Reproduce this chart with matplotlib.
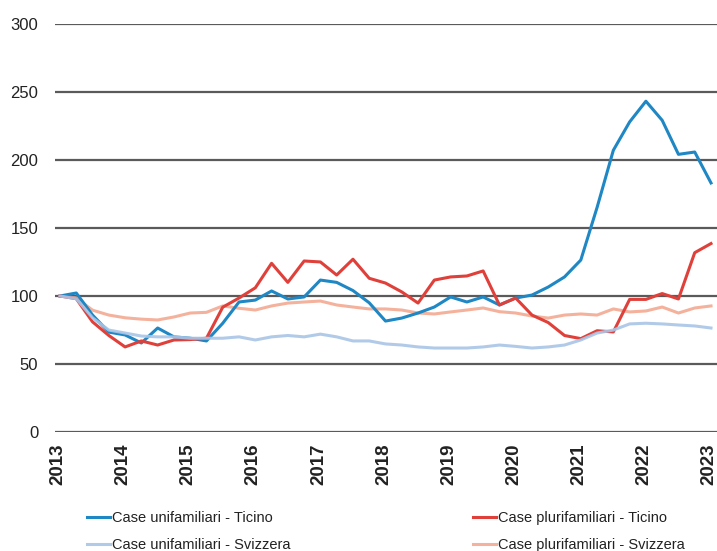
import matplotlib
matplotlib.use("Agg")
import matplotlib.pyplot as plt
import matplotlib.transforms as mtransforms
import numpy as np

# Quarterly index values, 2013 Q1 .. 2023 Q1 (base 2013 = 100)
years = [2013, 2014, 2015, 2016, 2017, 2018, 2019, 2020, 2021, 2022, 2023]
quarters = [2013 + q / 4 for q in range(41)]

unif_ticino = [100, 102.2, 86, 73.5, 71.4, 65.5, 76.5, 70, 69, 67,
               80, 95.6, 97, 103.7, 97.8, 99.3, 111.7, 110, 104, 95,
               81.6, 83.8, 87.5, 91.9, 99.3, 95.6, 99.3, 93.4, 98.5, 100.7,
               106.6, 114, 126.4, 165, 207, 227.8, 243, 229, 204, 205.7,
               183]
pluri_ticino = [100, 98, 81, 71, 62.6, 67, 64, 67.7, 68, 69,
                91.8, 98.5, 106, 124, 110, 125.7, 125, 115.4, 127, 113,
                109.5, 103, 94.8, 111.7, 114, 114.7, 118.4, 93.4, 98.5, 86,
                80.5, 71, 68.7, 74.5, 73.6, 97.5, 97.5, 101.8, 97.8, 131.8,
                138.5]
unif_svizzera = [100, 98, 84, 75, 72.8, 70.6, 70, 70, 69, 69,
                 69, 70, 67.7, 70, 71, 70, 72, 70, 67, 67,
                 64.8, 64, 62.6, 61.8, 61.8, 61.8, 62.6, 64, 63, 61.8,
                 62.6, 64, 67.7, 72.8, 75, 79.5, 80, 79.5, 78.7, 78,
                 76.5]
pluri_svizzera = [100, 98.5, 89.6, 86, 84, 83, 82.4, 84.6, 87.5, 88,
                  92.7, 91, 89.7, 92.7, 94.8, 95.6, 96.3, 93.4, 91.9, 90.5,
                  90.5, 89.7, 87.5, 86.8, 88.3, 89.7, 91.2, 88.5, 87.5, 85.3,
                  83.8, 86, 86.8, 86, 90.5, 88.3, 89, 91.9, 87.5, 91.2,
                  92.7]

labels = ["Case unifamiliari - Ticino", "Case plurifamiliari - Ticino",
          "Case unifamiliari - Svizzera", "Case plurifamiliari - Svizzera"]
yticks = [0, 50, 100, 150, 200, 250, 300]

c_blue = "#1e87c4"
c_red = "#e0403a"
c_lblue = "#a9c5e6"
c_salmon = "#f4b29d"

plain = ["Liberation Sans", "DejaVu Sans"]

fig = plt.figure(figsize=(7.17, 5.51), dpi=100)
ax = fig.add_axes([55 / 717, 0.2156, 1 - 55 / 717, 0.9572 - 0.2156])

lw = 2.2
l_sal, = ax.plot(quarters, pluri_svizzera, color=c_salmon, lw=lw, zorder=2)
l_blue, = ax.plot(quarters, unif_ticino, color=c_blue, lw=lw, zorder=3)
l_red, = ax.plot(quarters, pluri_ticino, color=c_red, lw=lw, zorder=4)
l_lb, = ax.plot(quarters, unif_svizzera, color=c_lblue, lw=lw, zorder=5, alpha=0.9)

ax.set_ylim(0, 300)
ax.set_xlim(2013 - 5 / 65.1, 2023 + 6 / 65.1)
ax.set_yticks(yticks)
ax.set_xticks(years)
ax.set_xticklabels([str(y) for y in years], rotation=90, family=plain,
                   fontsize=13.5, fontweight="bold", color="#222222")
ax.set_yticklabels([str(v) for v in yticks], family=plain, fontsize=12,
                   color="#222222")
ax.tick_params(axis="both", length=0)
ax.tick_params(axis="y", pad=12)
ax.tick_params(axis="x", pad=8)
shift = mtransforms.ScaledTranslation(-2 / 100, 0, fig.dpi_scale_trans)
for lab in ax.get_xticklabels():
    lab.set_transform(lab.get_transform() + shift)
ax.grid(axis="y", color="#5a5a5a", lw=1.6)
ax.set_axisbelow(True)
for s in ax.spines.values():
    s.set_visible(False)

leg_kw = dict(frameon=False, loc="upper left", borderpad=0, borderaxespad=0,
              handlelength=1.58, handletextpad=0.12, labelspacing=0.9,
              prop={"family": plain, "size": 10.5})
leg1 = fig.legend([l_blue, l_lb], [labels[0], labels[2]],
                  bbox_to_anchor=(87 / 717, 0.073), **leg_kw)
leg2 = fig.legend([l_red, l_sal], [labels[1], labels[3]],
                  bbox_to_anchor=(473 / 717, 0.073), **leg_kw)
for lg in (leg1, leg2):
    for t in lg.get_texts():
        t.set_color("#222222")

fig.savefig("out.png", dpi=100)
